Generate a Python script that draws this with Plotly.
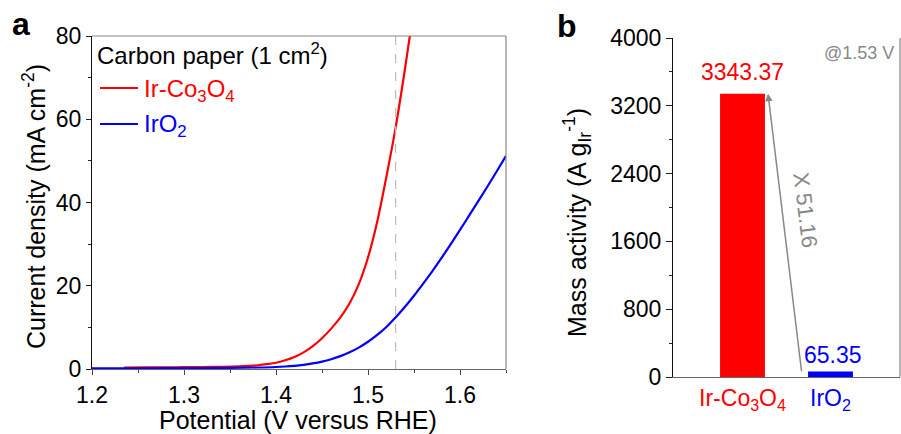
import plotly.graph_objects as go

FONT = "Liberation Sans, Arial, sans-serif"

# ---------------- Panel a data (LSV curves) ----------------
pot_irco = [1.235, 1.26, 1.28, 1.30, 1.32, 1.34, 1.36, 1.37, 1.38, 1.39, 1.40, 1.41, 1.42,
            1.43, 1.44, 1.45, 1.46, 1.47, 1.48, 1.49, 1.50, 1.51, 1.52, 1.53, 1.54, 1.55]
cur_irco = [0.35, 0.38, 0.40, 0.43, 0.47, 0.53, 0.63, 0.74, 0.90, 1.15, 1.50, 2.10, 2.90,
            4.00, 5.50, 7.40, 9.70, 12.4, 15.8, 20.4, 26.8, 35.4, 46.2, 58.0, 71.8, 86.8]

pot_iro2 = [1.20, 1.25, 1.30, 1.35, 1.38, 1.40, 1.41, 1.42, 1.43, 1.44, 1.45, 1.46, 1.47,
            1.48, 1.49, 1.50, 1.51, 1.52, 1.53, 1.54, 1.55, 1.56, 1.57, 1.58, 1.59, 1.60,
            1.61, 1.62, 1.63, 1.64, 1.65]
cur_iro2 = [0.15, 0.18, 0.22, 0.28, 0.36, 0.48, 0.60, 0.77, 1.01, 1.34, 1.78, 2.36, 3.10,
            4.02, 5.14, 6.54, 8.19, 10.1, 12.4, 14.9, 17.6, 20.5, 23.5, 26.7, 30.0, 33.4,
            36.9, 40.4, 43.9, 47.5, 51.2]

ref_potential = 1.53

# ---------------- Panel b data (mass activity) ----------------
catalysts = ["Ir-Co3O4", "IrO2"]
catalyst_labels = ["Ir-Co<sub>3</sub>O<sub>4</sub>", "IrO<sub>2</sub>"]
mass_activity = [3343.37, 65.35]
ratio_label = "X 51.16"
RED = "#ff0000"
BLUE = "#0000ff"
GRAY = "#888888"
bar_colors = [RED, BLUE]

fig = go.Figure()

# Panel a curves
fig.add_trace(go.Scatter(x=pot_irco, y=cur_irco, mode="lines",
                         line=dict(color=RED, width=2.2, shape="spline", smoothing=1.0),
                         xaxis="x", yaxis="y", showlegend=False))
fig.add_trace(go.Scatter(x=pot_iro2, y=cur_iro2, mode="lines",
                         line=dict(color=BLUE, width=2.2, shape="spline", smoothing=1.0),
                         xaxis="x", yaxis="y", showlegend=False))

# Panel b bars
fig.add_trace(go.Bar(x=catalysts, y=mass_activity, marker=dict(color=bar_colors, line=dict(width=0)),
                     width=0.51, xaxis="x2", yaxis="y2", showlegend=False))

W, H = 901, 434
def px(x):
    return x / W
def py(y):
    return (H - y) / H

tickfont = dict(family=FONT, size=23, color="black")

fig.update_layout(
    width=W, height=H,
    margin=dict(l=0, r=0, t=0, b=0),
    paper_bgcolor="white", plot_bgcolor="white",
    font=dict(family=FONT, color="black"),
    xaxis=dict(domain=[px(92), px(506)], range=[1.2, 1.65], anchor="y", automargin=False,
               tickvals=[1.2, 1.3, 1.4, 1.5, 1.6], ticktext=["1.2", "1.3", "1.4", "1.5", "1.6"],
               ticks="outside", ticklen=5, tickwidth=1, tickcolor="#444",
               minor=dict(ticks="outside", ticklen=3, dtick=0.05, tick0=1.2, tickcolor="#444"),
               showline=True, linecolor="#666", linewidth=1.2, showgrid=False, zeroline=False,
               tickfont=tickfont),
    yaxis=dict(domain=[py(369), py(36)], range=[0, 80], anchor="x", automargin=False,
               tickvals=[0, 20, 40, 60, 80],
               ticks="outside", ticklen=5, tickwidth=1, tickcolor="#222",
               minor=dict(ticks="outside", ticklen=3, dtick=10, tick0=0, tickcolor="#222"),
               showline=True, linecolor="#111", linewidth=1.2, showgrid=False, zeroline=False,
               tickfont=tickfont),
    xaxis2=dict(domain=[px(673), px(900)], range=[-0.79, 1.79], anchor="y2", automargin=False,
                type="category", tickvals=catalysts,
                ticktext=[f"<span style='color:{c}'>{t}</span>" for c, t in zip(bar_colors, catalyst_labels)],
                ticks="", showline=True, linecolor="#666", linewidth=1.2,
                showgrid=False, zeroline=False, tickfont=tickfont),
    yaxis2=dict(domain=[py(377), py(38)], range=[0, 4000], anchor="x2", automargin=False,
                tickvals=[0, 800, 1600, 2400, 3200, 4000],
                ticks="outside", ticklen=6, tickwidth=1, tickcolor="#222",
                minor=dict(ticks="outside", ticklen=3, dtick=400, tick0=0, tickcolor="#222"),
                showline=True, linecolor="#111", linewidth=1.2, showgrid=False, zeroline=False,
                tickfont=tickfont),
)

shapes = [
    # dashed reference line at 1.53 V
    dict(type="line", xref="x", yref="y", x0=ref_potential, x1=ref_potential, y0=0, y1=80,
         line=dict(color="#bbbbbb", width=1.2, dash="dash")),
    # panel a top and right frame
    dict(type="line", xref="paper", yref="paper", x0=px(92), x1=px(506), y0=py(36), y1=py(36),
         line=dict(color=GRAY, width=1.2)),
    dict(type="line", xref="paper", yref="paper", x0=px(506), x1=px(506), y0=py(36), y1=py(369),
         line=dict(color=GRAY, width=1.2)),
    # panel b right frame
    dict(type="line", xref="paper", yref="paper", x0=px(900), x1=px(900), y0=py(38), y1=py(377),
         line=dict(color=GRAY, width=1.2)),
    # legend lines
    dict(type="line", xref="paper", yref="paper", x0=px(100), x1=px(138), y0=py(88), y1=py(88),
         line=dict(color=RED, width=2.2)),
    dict(type="line", xref="paper", yref="paper", x0=px(100), x1=px(138), y0=py(124), y1=py(124),
         line=dict(color=BLUE, width=2.2)),
]
fig.update_layout(shapes=shapes)

ann = []
def text(x, y, s, size, color="black", xanchor="center", yanchor="middle", angle=0, bold=False):
    if bold:
        s = f"<b>{s}</b>"
    ann.append(dict(x=px(x), y=py(y), xref="paper", yref="paper", text=s, showarrow=False,
                    xanchor=xanchor, yanchor=yanchor, textangle=angle,
                    font=dict(family=FONT, size=size, color=color)))

# panel letters
text(21, 24, "a", 32, bold=True)
text(567, 26, "b", 32, bold=True)
# axis titles
text(298, 420, "Potential (V versus RHE)", 25)
text(34, 207, "Current density (mA cm<sup>-2</sup>)", 25, angle=-90)
text(577, 223, "Mass activity (A g<sub>Ir</sub><sup>-1</sup>)", 25, angle=-90)
# legend
text(95, 54, "Carbon paper (1 cm<sup>2</sup>)", 24, xanchor="left")
text(142, 90, "Ir-Co<sub>3</sub>O<sub>4</sub>", 24, color=RED, xanchor="left")
text(142, 126, "IrO<sub>2</sub>", 24, color=BLUE, xanchor="left")
# panel b notes
text(896, 53, "@1.53 V", 18, color=GRAY, xanchor="right")

fig.update_layout(annotations=ann)

# value labels and arrow on panel b (data coordinates)
fig.add_annotation(x=catalysts[0], y=mass_activity[0] + 250, xref="x2", yref="y2",
                   text=f"{mass_activity[0]:.2f}", showarrow=False, yanchor="middle",
                   font=dict(family=FONT, size=23, color=RED))
fig.add_annotation(x=1.03, y=mass_activity[1] + 200, xref="x2", yref="y2",
                   text=f"{mass_activity[1]:.2f}", showarrow=False, yanchor="middle",
                   font=dict(family=FONT, size=23, color=BLUE))
fig.add_annotation(x=0.29, y=mass_activity[0], ax=0.673, ay=50, xref="x2", yref="y2",
                   axref="x2", ayref="y2", text="", showarrow=True, arrowhead=2,
                   arrowsize=1, arrowwidth=1.5, arrowcolor=GRAY)
fig.add_annotation(x=0.72, y=1970, xref="x2", yref="y2", text=ratio_label, showarrow=False,
                   textangle=83, font=dict(family=FONT, size=22, color=GRAY))

fig.write_html("out.html")
